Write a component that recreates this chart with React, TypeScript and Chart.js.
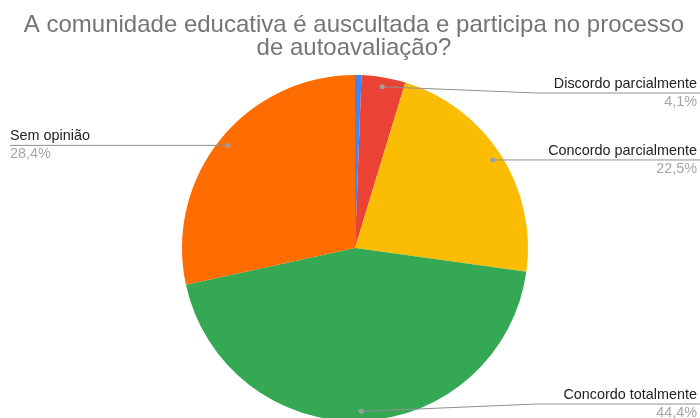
import React, { useEffect, useRef } from "react";
import { Chart, registerables } from "chart.js";

Chart.register(...registerables);

const TITLE_LINES = [
  "A comunidade educativa é auscultada e participa no processo",
  "de autoavaliação?",
];
const categories = [
  "Discordo totalmente",
  "Discordo parcialmente",
  "Concordo parcialmente",
  "Concordo totalmente",
  "Sem opinião",
];
const values = [0.6, 4.1, 22.5, 44.4, 28.4];
const percentLabels = ["0,6%", "4,1%", "22,5%", "44,4%", "28,4%"];
const colors = ["#4285F4", "#EA4335", "#FBBC04", "#34A853", "#FF6D01"];

const FONT = "'Liberation Sans', Arial, sans-serif";

const labelPlugin = {
  id: "pieLabels",
  afterDatasetsDraw(chart: any) {
    const ctx = chart.ctx as CanvasRenderingContext2D;
    const meta = chart.getDatasetMeta(0);
    const area = chart.chartArea;
    ctx.save();
    meta.data.forEach((arc: any, i: number) => {
      if (values[i] < 2) return;
      const { x, y, startAngle, endAngle, outerRadius } = arc.getProps(
        ["x", "y", "startAngle", "endAngle", "outerRadius"],
        true
      );
      const mid = (startAngle + endAngle) / 2;
      const r = outerRadius * 0.945;
      const dx = x + Math.cos(mid) * r;
      const dy = y + Math.sin(mid) * r;
      const right = Math.cos(mid) >= 0;
      const lineY = Math.min(Math.max(dy, area.top + 18), area.bottom - 17);
      const elbowX = right ? x + outerRadius + 9 : x - outerRadius - 9;
      const endX = right ? chart.width : 10;

      ctx.strokeStyle = "#8f8f8f";
      ctx.lineWidth = 1;
      ctx.beginPath();
      ctx.moveTo(dx, dy);
      ctx.lineTo(elbowX, lineY);
      ctx.lineTo(endX, lineY);
      ctx.stroke();

      ctx.fillStyle = "#9e9e9e";
      ctx.beginPath();
      ctx.arc(dx, dy, 2.5, 0, Math.PI * 2);
      ctx.fill();

      ctx.font = `14.4px ${FONT}`;
      ctx.textBaseline = "alphabetic";
      ctx.textAlign = right ? "right" : "left";
      const tx = right ? chart.width - 3 : 10;
      ctx.fillStyle = "#222222";
      ctx.fillText(categories[i], tx, lineY - 5);
      ctx.fillStyle = "#a6a6a6";
      ctx.fillText(percentLabels[i], tx, lineY + 13);
    });
    ctx.restore();
  },
  afterDraw(chart: any) {
    const ctx = chart.ctx as CanvasRenderingContext2D;
    ctx.save();
    ctx.font = `24px ${FONT}`;
    ctx.fillStyle = "#757575";
    ctx.textAlign = "center";
    ctx.textBaseline = "alphabetic";
    TITLE_LINES.forEach((t, i) => ctx.fillText(t, 354, 32 + i * 22.5));
    ctx.restore();
  },
};

export default function App() {
  const ref = useRef<HTMLCanvasElement | null>(null);
  useEffect(() => {
    document.body.style.margin = "0";
    document.body.style.overflow = "hidden";
    if (!ref.current) return;
    const chart = new Chart(ref.current, {
      type: "pie",
      data: {
        labels: categories,
        datasets: [
          {
            data: values,
            backgroundColor: colors,
            borderWidth: 0,
            hoverOffset: 0,
            offset: 0,
          },
        ],
      },
      options: {
        responsive: false,
        animation: false,
        events: [],
        layout: { padding: { left: 182, right: 172, top: 75, bottom: 19 } },
        plugins: {
          legend: { display: false },
          title: { display: false },
          tooltip: { enabled: false },
        },
      },
      plugins: [labelPlugin],
    });
    return () => chart.destroy();
  }, []);
  return (
    <div style={{ width: 700, height: 418, overflow: "hidden", background: "#fff" }}>
      <canvas ref={ref} width={700} height={440} style={{ display: "block" }} />
    </div>
  );
}
